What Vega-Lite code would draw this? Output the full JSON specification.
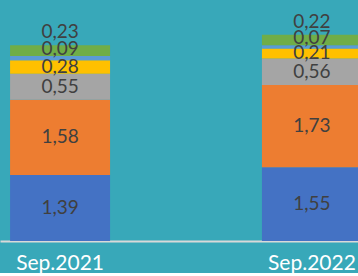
{
  "$schema": "https://vega.github.io/schema/vega-lite/v6.json",
  "width": 372,
  "height": 241,
  "autosize": {"type": "pad"},
  "padding": 0,
  "background": "#38A8B9",
  "config": {"view": {"stroke": null}},
  "data": {
    "values": [
      {"period": "Sep.2021", "series": "A", "order": 1, "value": 1.39, "label": "1,39"},
      {"period": "Sep.2021", "series": "B", "order": 2, "value": 1.58, "label": "1,58"},
      {"period": "Sep.2021", "series": "C", "order": 3, "value": 0.55, "label": "0,55"},
      {"period": "Sep.2021", "series": "D", "order": 4, "value": 0.28, "label": "0,28"},
      {"period": "Sep.2021", "series": "E", "order": 5, "value": 0.09, "label": "0,09"},
      {"period": "Sep.2021", "series": "F", "order": 6, "value": 0.23, "label": "0,23"},
      {"period": "Sep.2022", "series": "A", "order": 1, "value": 1.55, "label": "1,55"},
      {"period": "Sep.2022", "series": "B", "order": 2, "value": 1.73, "label": "1,73"},
      {"period": "Sep.2022", "series": "C", "order": 3, "value": 0.56, "label": "0,56"},
      {"period": "Sep.2022", "series": "D", "order": 4, "value": 0.21, "label": "0,21"},
      {"period": "Sep.2022", "series": "E", "order": 5, "value": 0.07, "label": "0,07"},
      {"period": "Sep.2022", "series": "F", "order": 6, "value": 0.22, "label": "0,22"}
    ]
  },
  "transform": [
    {"stack": "value", "groupby": ["period"], "sort": [{"field": "order"}], "as": ["v0", "v1"]},
    {"calculate": "(datum.v0 + datum.v1) / 2", "as": "mid"}
  ],
  "encoding": {
    "x": {
      "field": "period",
      "type": "nominal",
      "scale": {"paddingInner": 0.603, "paddingOuter": 0.04},
      "axis": {
        "title": null,
        "labelAngle": 0,
        "ticks": false,
        "domainColor": "#D9D9D9",
        "domainWidth": 2,
        "labelColor": "#FFFFFF",
        "labelFont": "Lato",
        "labelFontSize": 21,
        "labelFontWeight": "normal",
        "labelPadding": 11
      }
    }
  },
  "layer": [
    {
      "mark": {"type": "bar"},
      "encoding": {
        "y": {"field": "v0", "type": "quantitative", "scale": {"domain": [0, 5.07], "nice": false}, "axis": null},
        "y2": {"field": "v1"},
        "color": {
          "field": "series",
          "type": "nominal",
          "legend": null,
          "scale": {
            "domain": ["A", "B", "C", "D", "E", "F"],
            "range": ["#4472C4", "#ED7D31", "#A5A5A5", "#FFC000", "#5B9BD5", "#70AD47"]
          }
        }
      }
    },
    {
      "transform": [{"filter": "datum.order <= 4"}],
      "mark": {"type": "text", "font": "Lato", "fontSize": 19, "color": "#404040", "baseline": "middle"},
      "encoding": {
        "y": {"field": "mid", "type": "quantitative"},
        "text": {"field": "label"}
      }
    },
    {
      "transform": [{"filter": "datum.order == 5"}],
      "mark": {"type": "text", "font": "Lato", "fontSize": 19, "color": "#404040", "baseline": "middle", "dy": -7},
      "encoding": {
        "y": {"field": "v1", "type": "quantitative"},
        "text": {"field": "label"}
      }
    },
    {
      "transform": [{"filter": "datum.order == 6"}],
      "mark": {"type": "text", "font": "Lato", "fontSize": 19, "color": "#404040", "baseline": "middle", "dy": -13},
      "encoding": {
        "y": {"field": "v1", "type": "quantitative"},
        "text": {"field": "label"}
      }
    }
  ]
}
